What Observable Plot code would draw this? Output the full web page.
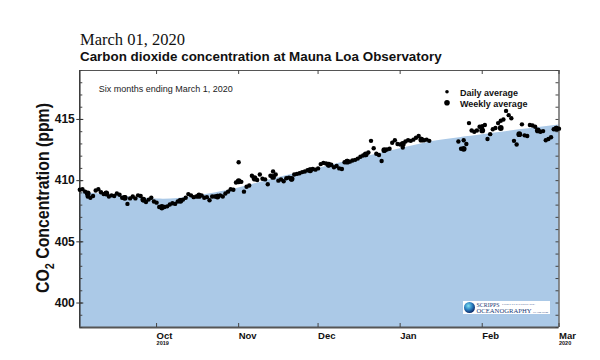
<!DOCTYPE html>
<html><head><meta charset="utf-8">
<script src="https://cdn.jsdelivr.net/npm/d3@7"></script>
<script src="https://cdn.jsdelivr.net/npm/@observablehq/plot@0.6"></script>
<style>
body{margin:0;background:#fff;}
#wrap{position:relative;width:600px;height:360px;overflow:hidden;font-family:"Liberation Sans",Arial,sans-serif;background:#fff;}
#t1{position:absolute;left:80px;top:33px;font-family:"Liberation Serif","Times New Roman",serif;font-size:16.5px;line-height:14px;color:#111;white-space:nowrap}
#t2{position:absolute;left:80px;top:49.5px;font-size:13.4px;line-height:13px;font-weight:bold;color:#111;white-space:nowrap}
#chart{position:absolute;left:0;top:62px;}
</style></head><body>
<div id="wrap">
<div id="t1">March 01, 2020</div>
<div id="t2">Carbon dioxide concentration at Mauna Loa Observatory</div>
<div id="chart"></div>
</div>
<script>
// ---- data ----
const xDomain = ["2019-09-02", "2020-03-01"];
const yDomain = [398, 419];
const majorTicks = [400, 405, 410, 415];
const monthTicks = ["2019-10-01", "2019-11-01", "2019-12-01", "2020-01-01", "2020-02-01", "2020-03-01"];
const monthLabels = ["Oct", "Nov", "Dec", "Jan", "Feb", "Mar"];
const yearTicks = ["2019-10-01", "2020-03-01"];
const yearLabels = ["2019", "2020"];

// daily averages, one per day starting at dailyStart (null = no data)
const dailyStart = "2019-09-02";
const dailyPpm = [
 409.25,409.3,409.1,408.7,408.6,408.75,409.2,409.3,409.05,408.9,
 409.0,408.7,408.8,408.75,408.95,408.85,408.6,408.65,408.1,408.55,
 408.7,408.55,408.8,408.75,408.4,408.25,408.45,408.6,408.3,408.2,
 407.85,407.75,407.85,407.9,408.05,408.15,408.1,408.3,408.4,408.45,
 408.6,408.9,408.8,408.65,408.7,408.85,408.8,408.6,408.65,408.4,
 408.7,408.7,408.75,408.8,408.7,408.95,409.1,409.3,409.25,409.85,
 411.5,409.9,409.1,409.5,409.6,410.4,410.1,410.05,410.5,410.15,
 410.1,409.7,410.4,410.75,410.5,410.0,410.1,409.95,410.2,410.25,
 410.1,410.5,410.55,410.6,410.7,410.75,410.85,410.9,410.95,410.9,
 411.0,411.35,411.45,411.4,411.25,411.3,411.1,411.2,411.0,410.95,
 411.5,411.6,411.55,411.65,411.7,411.8,411.95,412.05,412.1,412.3,
 413.25,412.65,412.2,412.1,411.6,412.45,412.55,412.6,413.1,413.3,
 413.0,412.95,412.7,413.2,413.3,413.25,413.35,413.5,413.65,413.4,
 413.3,413.35,413.25,null,null,null,null,null,null,null,
 null,null,null,413.2,412.6,413.3,413.0,414.7,414.1,414.0,
 414.1,414.4,414.45,414.55,413.4,413.8,414.2,414.3,414.7,414.9,
 415.0,415.7,415.35,415.1,413.25,412.95,413.75,414.6,413.7,413.65,
 414.55,414.5,414.4,414.1,414.0,414.05,413.3,413.4,413.55,414.2,
 414.3,414.25
];

const weeklyDates = ["2019-09-05","2019-09-12","2019-09-19","2019-09-26","2019-10-03","2019-10-10","2019-10-17","2019-10-24","2019-11-01","2019-11-07","2019-11-14","2019-11-21","2019-11-28","2019-12-05","2019-12-12","2019-12-19","2019-12-26","2020-01-02","2020-01-09","2020-01-25","2020-02-01","2020-02-08","2020-02-15","2020-02-22","2020-02-29"];
const weeklyPpm = [408.95,408.95,408.6,408.45,407.85,408.35,408.75,408.7,409.95,410.2,410.3,410.15,410.85,411.3,411.55,412.15,412.5,413.0,413.35,412.6,414.1,414.3,413.8,414.1,414.25];

// smooth seasonal curve (shaded area)
const trendDates = ["2019-09-02","2019-09-15","2019-10-01","2019-10-15","2019-11-01","2019-11-15","2019-12-01","2019-12-15","2020-01-01","2020-01-15","2020-02-01","2020-02-15","2020-03-01"];
const trendPpm = [409.05,408.8,408.5,408.7,409.4,410.2,411.0,411.75,412.6,413.25,413.75,414.15,414.55];

// ---- build ----
const parse = d3.utcParse("%Y-%m-%d");
const start = parse(dailyStart);
const daily = dailyPpm.map((v, i) => ({date: d3.utcDay.offset(start, i), v})).filter(d => d.v != null);
const weekly = weeklyDates.map((d, i) => ({date: parse(d), v: weeklyPpm[i]}));
const trend = trendDates.map((d, i) => ({date: parse(d), v: trendPpm[i]}));
const months = monthTicks.map(parse);
const years = yearTicks.map(parse);
const minorTicks = d3.range(yDomain[0], yDomain[1] + 1);

const W = 600, H = 298, mT = 8, mB = 33, mL = 79.3, mR = 41.5;
const pw = W - mL - mR, ph = H - mT - mB;
const fillBlue = "#abc9e7";

const svg = Plot.plot({
  width: W, height: H,
  marginTop: mT, marginBottom: mB, marginLeft: mL, marginRight: mR,
  style: {fontFamily: "Liberation Sans, Arial, sans-serif", color: "#111", background: "transparent", overflow: "visible"},
  x: {type: "utc", domain: xDomain.map(parse), axis: null},
  y: {domain: yDomain, axis: null},
  marks: [
    Plot.areaY(trend, {x: "date", y1: yDomain[0], y2: "v", curve: "natural", fill: fillBlue}),
    // frame
    Plot.ruleY([yDomain[1]], {stroke: "#555", strokeWidth: 1}),
    Plot.ruleX([parse(xDomain[1])], {stroke: "#444", strokeWidth: 1.2}),
    Plot.ruleX([parse(xDomain[0])], {stroke: "#333", strokeWidth: 1.5}),
    Plot.ruleY([yDomain[0]], {stroke: "#555", strokeWidth: 2.2}),
    // y ticks
    Plot.ruleY(minorTicks, {y: d => d, stroke: "#444", insetRight: pw - 3}),
    Plot.ruleY(majorTicks, {y: d => d, stroke: "#333", insetLeft: -3, insetRight: pw - 4}),
    Plot.ruleY(minorTicks, {y: d => d, stroke: "#444", insetLeft: pw - 3}),
    // x ticks
    Plot.ruleX(months, {x: d => d, stroke: "#444", insetTop: ph - 4}),
    Plot.ruleX(months, {x: d => d, stroke: "#444", insetBottom: ph - 4}),
    // labels
    Plot.text(majorTicks, {y: d => d, text: d => String(d), frameAnchor: "left", dx: -5, textAnchor: "end", fontSize: 12, fontWeight: "bold", fill: "#111"}),
    Plot.text(months, {x: d => d, text: (d, i) => monthLabels[i], frameAnchor: "bottom", dy: 5, lineAnchor: "top", textAnchor: "start", fontSize: 9.5, fontWeight: "bold", fill: "#111"}),
    Plot.text(years, {x: d => d, text: (d, i) => yearLabels[i], frameAnchor: "bottom", dy: 13.5, lineAnchor: "top", textAnchor: "start", fontSize: 5.5, fontWeight: "bold", fill: "#111"}),
    Plot.text(["Six months ending March 1, 2020"], {frameAnchor: "top-left", dx: 19, dy: 15, lineAnchor: "top", textAnchor: "start", fontSize: 9, fill: "#222"}),
    // data
    Plot.dot(daily, {x: "date", y: "v", r: 2.2, fill: "#000"}),
    Plot.dot(weekly, {x: "date", y: "v", r: 2.9, fill: "#000"})
  ]
});
document.getElementById("chart").appendChild(svg);

const s = d3.select(svg);
const oy = 62;
// legend
const lg = s.append("g").attr("font-family", "Liberation Sans, Arial, sans-serif").attr("font-weight", "bold").attr("font-size", 9).attr("fill", "#111").attr("text-anchor", "start");
lg.append("circle").attr("cx", 447).attr("cy", 91.7 - oy).attr("r", 1.8).attr("fill", "#000");
lg.append("text").attr("x", 460).attr("y", 95.5 - oy).text("Daily average");
lg.append("circle").attr("cx", 447).attr("cy", 102.7 - oy).attr("r", 2.8).attr("fill", "#000");
lg.append("text").attr("x", 460).attr("y", 107 - oy).text("Weekly average");

// y-axis title
const yt = s.append("text").attr("text-anchor", "middle").attr("font-weight", "bold")
  .attr("font-family", "Liberation Sans, Arial, sans-serif").attr("font-size", 19).attr("fill", "#111");
yt.append("tspan").text("CO");
yt.append("tspan").attr("font-size", 13).attr("dy", 5).text("2");
yt.append("tspan").attr("dy", -5).text(" Concentration (ppm)");
const len = yt.node().getComputedTextLength();
yt.attr("transform", `translate(49, ${198 - oy}) rotate(-90) scale(${190 / len}, 1)`);

// logo
const defs = s.append("defs");
const rg = defs.append("radialGradient").attr("id", "globe").attr("cx", "40%").attr("cy", "35%").attr("r", "65%");
rg.append("stop").attr("offset", "0%").attr("stop-color", "#7fe0f0");
rg.append("stop").attr("offset", "55%").attr("stop-color", "#2a7fc0");
rg.append("stop").attr("offset", "100%").attr("stop-color", "#0f2c6a");
const lo = s.append("g").attr("text-anchor", "start");
lo.append("rect").attr("x", 463).attr("y", 301 - oy).attr("width", 87).attr("height", 13).attr("fill", "#fff");
lo.append("circle").attr("cx", 469.5).attr("cy", 307.5 - oy).attr("r", 5.5).attr("fill", "url(#globe)");
const serif = "Liberation Serif, Times New Roman, serif";
lo.append("text").attr("x", 476.5).attr("y", 306.8 - oy).attr("font-family", serif).attr("font-size", 7).attr("fill", "#1b3a78").attr("textLength", 23).attr("lengthAdjust", "spacingAndGlyphs").text("SCRIPPS");
lo.append("text").attr("x", 502).attr("y", 304.5 - oy).attr("font-family", serif).attr("font-size", 2.8).attr("fill", "#1b3a78").attr("textLength", 33).attr("lengthAdjust", "spacingAndGlyphs").text("INSTITUTION OF");
lo.append("text").attr("x", 476.5).attr("y", 313.3 - oy).attr("font-family", serif).attr("font-size", 6.6).attr("fill", "#1b3a78").attr("textLength", 55).attr("lengthAdjust", "spacingAndGlyphs").text("OCEANOGRAPHY");
lo.append("text").attr("x", 533).attr("y", 312.5 - oy).attr("font-family", serif).attr("font-size", 2.8).attr("fill", "#1b3a78").attr("textLength", 15).attr("lengthAdjust", "spacingAndGlyphs").text("UC San Diego");
</script>
</body></html>
